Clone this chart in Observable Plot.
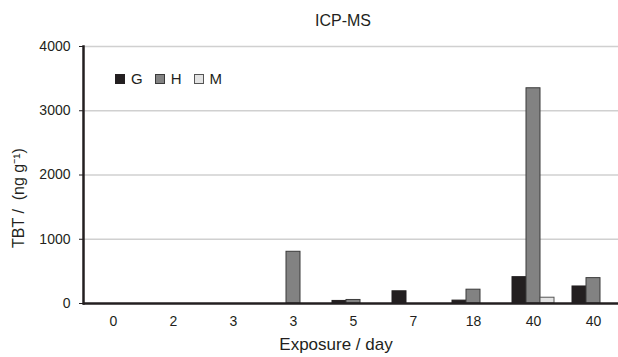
<!DOCTYPE html>
<html>
<head>
<meta charset="utf-8">
<script src="https://cdn.jsdelivr.net/npm/d3@7"></script>
<script src="https://cdn.jsdelivr.net/npm/@observablehq/plot@0.6"></script>
<style>
  html, body { margin: 0; padding: 0; background: #fff; }
  #wrap { position: relative; width: 618px; height: 357px; font-family: "Liberation Sans", Arial, sans-serif; color: #231f20; }
  #title { height: 30px; width: 618px; position: relative; }
  #title span { position: absolute; left: 343px; top: 21px; transform: translate(-50%, -50%); font-size: 16px; white-space: nowrap; }
  #caption { position: absolute; left: 336px; top: 345px; transform: translate(-50%, -50%); font-size: 17px; white-space: nowrap; }
  #ylabel { position: absolute; left: 18px; top: 198px; transform: translate(-50%, -50%) rotate(-90deg); font-size: 16px; white-space: pre; }
  #legend { position: absolute; left: 115px; top: 70px; display: flex; align-items: center; font-size: 15px; }
  #legend .item { display: flex; align-items: center; margin-right: 12px; }
  #legend .sw { width: 10px; height: 10px; margin-right: 6px; box-sizing: border-box; }
</style>
</head>
<body>
<div id="wrap">
  <div id="title"><span></span></div>
  <div id="chart"></div>
  <div id="caption"></div>
  <div id="ylabel"></div>
  <div id="legend"></div>
</div>
<script>
// ---- data ----
const xLabels = ["0", "2", "3", "3", "5", "7", "18", "40", "40"];
const series = ["G", "H", "M"];
const G = [0, 0, 0, 0, 40, 190, 45, 410, 265];
const H = [0, 0, 0, 805, 55, 0, 215, 3350, 395];
const M = [0, 0, 0, 0, 0, 0, 0, 90, 0];
const yTicks = [0, 1000, 2000, 3000, 4000];
const titleText = "ICP-MS";
const xTitle = "Exposure / day";
const yTitle = "TBT /  (ng g\u207B\u00B9)";

// ---- styles ----
const fills = {G: "#231f20", H: "#828282", M: "#e3e3e3"};
const strokes = {G: "#231f20", H: "#3a3a3a", M: "#555555"};

const values = {G, H, M};
const data = xLabels.flatMap((lab, i) => series.map(s => ({group: i, series: s, value: values[s][i]})));

document.querySelector("#title span").textContent = titleText;
document.querySelector("#caption").textContent = xTitle;
document.querySelector("#ylabel").textContent = yTitle;
const legend = document.querySelector("#legend");
for (const s of series) {
  const it = document.createElement("div");
  it.className = "item";
  const sw = document.createElement("div");
  sw.className = "sw";
  sw.style.background = fills[s];
  sw.style.border = "1px solid " + strokes[s];
  const t = document.createElement("span");
  t.textContent = s;
  it.appendChild(sw); it.appendChild(t);
  legend.appendChild(it);
}

const chart = Plot.plot({
  width: 618,
  height: 305,
  marginLeft: 82,
  marginRight: -5,
  marginTop: 16,
  marginBottom: 32,
  style: {fontFamily: "'Liberation Sans', Arial, sans-serif", fontSize: "14px", color: "#231f20", background: "white", overflow: "visible"},
  fx: {domain: d3.range(xLabels.length), padding: 0, label: null},
  x: {domain: series, paddingInner: 0, paddingOuter: 0.64, axis: null},
  y: {domain: [0, 4000], label: null},
  marks: [
    Plot.gridY(yTicks.filter(v => v > 0), {stroke: "#d0d0d0", strokeOpacity: 1, strokeWidth: 1.5}),
    ...series.map(s => Plot.barY(data.filter(d => d.series === s), {
      fx: "group", x: "series", y: "value", fill: fills[s], stroke: strokes[s],
      strokeWidth: d => (d.value > 0 ? 1 : 0)
    })),
    Plot.ruleY([0], {stroke: "#231f20", strokeWidth: 2.5}),
    Plot.frame({anchor: "left", facetAnchor: "left", stroke: "#231f20", strokeWidth: 2.5}),
    Plot.axisY({ticks: yTicks, tickSize: 4, tickPadding: 9, tickFormat: d => String(d), label: null, fontSize: 14}),
    Plot.axisFx({anchor: "bottom", tickSize: 0, tickPadding: 13, tickFormat: i => xLabels[i], label: null, fontSize: 14})
  ]
});
document.getElementById("chart").appendChild(chart);
</script>
</body>
</html>
